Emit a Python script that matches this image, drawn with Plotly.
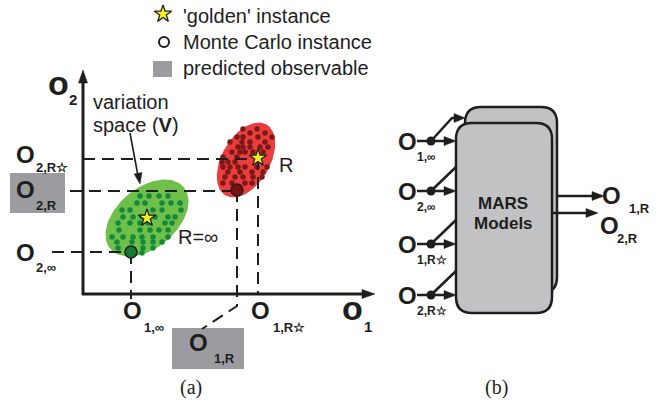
import numpy as np
import plotly.graph_objects as go

W, H = 663, 407

# ---------------- data (diagram units = pixels of the 663x407 canvas) -------------
golden_x = [147, 258]          # 'golden' instances (green cloud, red cloud)
golden_y = [218, 158]
mc_x = [131, 237]              # selected Monte Carlo instances
mc_y = [252, 190]

green_dots_x = [140, 149, 159, 168, 137, 145, 162, 171, 180, 122, 130, 153, 162, 181,
                123, 133, 142, 155, 168, 175, 118, 130, 140, 148, 165, 172, 119, 140,
                150, 159, 168, 112, 123, 133, 142, 153, 168, 117, 132, 143, 153, 162,
                118, 143, 153, 142]
green_dots_y = [196, 196, 196, 196, 203, 203, 203, 203, 203, 210, 210, 210, 210, 210,
                217, 217, 217, 217, 217, 217, 223, 223, 223, 223, 223, 223, 230, 230,
                230, 230, 230, 237, 237, 237, 237, 237, 237, 242, 242, 242, 242, 242,
                248, 248, 248, 253]
red_dots_x = [243, 257, 250, 265, 237, 243, 258, 272, 230, 242, 250, 265, 238, 243,
              250, 260, 268, 232, 240, 245, 253, 263, 223, 237, 222, 228, 235, 223,
              230, 238, 245, 257, 267, 228, 240, 252, 263, 225, 235, 243, 253, 262,
              223, 232, 245, 252]
red_dots_y = [129, 129, 133, 133, 137, 137, 137, 137, 142, 142, 142, 142, 147, 147,
              147, 147, 147, 152, 152, 152, 152, 152, 157, 157, 162, 162, 162, 167,
              167, 167, 167, 167, 167, 172, 172, 172, 172, 177, 177, 177, 177, 177,
              183, 183, 183, 183]

legend_labels = ["'golden' instance", "Monte Carlo instance", "predicted observable"]
input_subs = ["1,\u221e", "2,\u221e", "1,R\u2606", "2,R\u2606"]
input_y = [141, 191, 244, 295]
output_subs = ["1,R", "2,R"]
output_y = [196, 213]

# ---------------- styles ----------------
FONT = "Liberation Sans"
GREEN_FILL, GREEN_DOT, GREEN_MC = "#6fc04a", "#14893c", "#157a35"
RED_FILL, RED_DOT, RED_MC = "#ea3d3d", "#7d1818", "#7a1010"
OBS_GRAY = "#9c9ca0"
BOX_GRAY = "#c2c2c5"
INK = "#1e1e1e"

fig = go.Figure()


def line(xs, ys, width=2.0, dash=None, color=INK):
    fig.add_trace(go.Scatter(x=xs, y=ys, mode="lines", hoverinfo="skip",
                             line=dict(color=color, width=width, dash=dash)))


def head(tx, ty, dx, dy, L=11, hw=4.5, color=INK):
    n = np.hypot(dx, dy)
    ux, uy = dx / n, dy / n
    bx, by = tx - L * ux, ty - L * uy
    px, py = -uy, ux
    fig.add_trace(go.Scatter(x=[tx, bx + hw * px, bx - hw * px, tx],
                             y=[ty, by + hw * py, by - hw * py, ty],
                             mode="lines", fill="toself", fillcolor=color,
                             line=dict(color=color, width=0.5), hoverinfo="skip"))


def ellipse(cx, cy, a, b, deg, color):
    t = np.linspace(0, 2 * np.pi, 120)
    th = np.radians(deg)
    x = cx + a * np.cos(t) * np.cos(th) - b * np.sin(t) * np.sin(th)
    y = cy - (a * np.cos(t) * np.sin(th) + b * np.sin(t) * np.cos(th))
    fig.add_trace(go.Scatter(x=x, y=y, mode="lines", fill="toself", fillcolor=color,
                             line=dict(width=0, color=color), hoverinfo="skip"))


annots = []


def txt(x, y, s, size, bold=False, xanchor="center", family=FONT, color=INK):
    if bold:
        s = "<b>" + s + "</b>"
    annots.append(dict(x=x, y=y, text=s, showarrow=False, xanchor=xanchor,
                       yanchor="middle", font=dict(family=family, size=size, color=color),
                       borderpad=0))


def obs(x, y, sub, big=24, small=13, subdx=10, subdy=15):
    txt(x, y, "O", big, bold=True)
    txt(x + subdx, y + subdy, sub, small, bold=True, xanchor="left")


shapes = []


def rrect(x0, y0, x1, y1, r, fill, lw=2.5):
    p = (f"M{x0 + r},{y0} L{x1 - r},{y0} Q{x1},{y0} {x1},{y0 + r} "
         f"L{x1},{y1 - r} Q{x1},{y1} {x1 - r},{y1} L{x0 + r},{y1} "
         f"Q{x0},{y1} {x0},{y1 - r} L{x0},{y0 + r} Q{x0},{y0} {x0 + r},{y0} Z")
    shapes.append(dict(type="path", path=p, xref="x", yref="y", fillcolor=fill,
                       line=dict(color=INK, width=lw), layer="below"))


# ---------------- panel (a) ----------------
ellipse(147, 218, 48, 30, 40, GREEN_FILL)
ellipse(246, 160, 41, 24, 60, RED_FILL)
fig.add_trace(go.Scatter(x=green_dots_x, y=green_dots_y, mode="markers", hoverinfo="skip",
                         marker=dict(size=5.5, color=GREEN_DOT)))
fig.add_trace(go.Scatter(x=red_dots_x, y=red_dots_y, mode="markers", hoverinfo="skip",
                         marker=dict(size=5.5, color=RED_DOT)))

DASH = "12px,7px"
line([83, golden_x[1]], [golden_y[1] + 1, golden_y[1] + 1], 2, DASH)
line([70, mc_x[1]], [mc_y[1] + 1, mc_y[1] + 1], 2, DASH)
line([52, mc_x[0]], [mc_y[0], mc_y[0]], 2, DASH)
line([mc_x[0], mc_x[0]], [mc_y[0], 299], 2, DASH)
line([golden_x[1], golden_x[1]], [golden_y[1], 294], 2, DASH)
line([mc_x[1], mc_x[1], 202], [mc_y[1], 306, 329], 2, DASH)

# axes
line([83, 83], [295, 80], 3)
head(83, 70, 0, -1, 13, 4.5)
line([82, 364], [294, 294], 3)
head(375, 294, 1, 0, 13, 4.5)

# 'variation space' arrow
line([130, 138], [133, 176], 1.6)
head(140, 184, 0.18, 1, 11, 4)

# MC instances and golden stars
fig.add_trace(go.Scatter(x=mc_x, y=mc_y, mode="markers", hoverinfo="skip",
                         marker=dict(size=12, color=[GREEN_MC, RED_MC],
                                     line=dict(color=INK, width=1.5))))
fig.add_trace(go.Scatter(x=golden_x, y=golden_y, mode="markers", hoverinfo="skip",
                         marker=dict(symbol="star", size=13, color="#f5f01e",
                                     line=dict(color=INK, width=1.3))))

# legend
fig.add_trace(go.Scatter(x=[163], y=[14], mode="markers", hoverinfo="skip",
                         marker=dict(symbol="star", size=13, color="#f5f01e",
                                     line=dict(color=INK, width=1.3))))
fig.add_trace(go.Scatter(x=[164], y=[42], mode="markers", hoverinfo="skip",
                         marker=dict(symbol="circle", size=10, color="white",
                                     line=dict(color=INK, width=2))))
shapes.append(dict(type="rect", x0=153, x1=172, y0=61, y1=77, xref="x", yref="y",
                   fillcolor=OBS_GRAY, line=dict(width=0), layer="below"))
for i, lab in enumerate(legend_labels):
    txt(182, [16, 42, 68][i], lab, 20, xanchor="left")

# predicted-observable boxes
shapes.append(dict(type="rect", x0=10, x1=65, y0=173, y1=213, xref="x", yref="y",
                   fillcolor=OBS_GRAY, line=dict(width=0), layer="below"))
shapes.append(dict(type="rect", x0=172, x1=244, y0=328, y1=369, xref="x", yref="y",
                   fillcolor=OBS_GRAY, line=dict(width=0), layer="below"))

# axis labels
txt(58, 83, "o", 34, bold=True)
txt(73, 99, "2", 15, bold=True)
txt(352, 308, "o", 34, bold=True)
txt(368, 326, "1", 15, bold=True)

# observable labels
obs(25, 154, "2,R\u2606", subdx=10, subdy=13)
obs(25, 189, "2,R", subdx=10, subdy=16)
obs(25, 252, "2,\u221e", subdx=10, subdy=15)
obs(132, 310, "1,\u221e", subdx=11, subdy=17)
obs(260, 310, "1,R\u2606", subdx=12, subdy=17)
obs(198, 342, "1,R", subdx=15, subdy=16)

txt(92, 102, "variation", 20, xanchor="left")
txt(92, 125, "space (<b>V</b>)", 20, xanchor="left")
txt(177, 237, "R=\u221e", 20, xanchor="left")
txt(278, 165, "R", 20, xanchor="left")
txt(191, 387, "(a)", 20, family="Liberation Serif")

# ---------------- panel (b) ----------------
rrect(465, 107, 557, 293, 16, BOX_GRAY)
rrect(456, 123, 552, 313, 16, BOX_GRAY)
txt(503, 203, "MARS", 17, bold=True)
txt(503, 223, "Models", 17, bold=True)

for i, (sub, yy) in enumerate(zip(input_subs, input_y)):
    obs(407, yy, sub, big=24, small=12, subdx=9, subdy=16)
    line([417, 445], [yy, yy], 2.5)
    head(456, yy, 1, 0, 12, 4.5)
    if i == 0:
        line([431, 452, 455], [yy, yy - 23, yy - 23], 2.5)
        head(465, yy - 23, 1, 0, 11, 4.5)
    else:
        line([431, 456], [yy, yy - 24], 2.5)
fig.add_trace(go.Scatter(x=[431] * 4, y=input_y, mode="markers", hoverinfo="skip",
                         marker=dict(size=9, color=INK)))

out_start = [558, 552]
out_tip = [604, 598]
out_lab_y = [195, 225]
for i, (sub, yy) in enumerate(zip(output_subs, output_y)):
    line([out_start[i], out_tip[i] - 10], [yy, yy], 2.5)
    head(out_tip[i], yy, 1, 0, 12, 4.5)
    obs(611 - 2 * i, out_lab_y[i], sub, big=24, small=13, subdx=[17, 7][i], subdy=13)

txt(496, 387, "(b)", 20, family="Liberation Serif")

fig.update_layout(
    width=W, height=H, margin=dict(l=0, r=0, t=0, b=0),
    paper_bgcolor="white", plot_bgcolor="white", showlegend=False,
    xaxis=dict(range=[0, W], visible=False, fixedrange=True),
    yaxis=dict(range=[H, 0], visible=False, fixedrange=True),
    shapes=shapes, annotations=annots,
)
# remove the browser's default 8px body margin so the figure fills the window exactly
fig.write_html("out.html", config={"displayModeBar": False, "staticPlot": True},
               post_script="document.body.style.margin='0px';")
